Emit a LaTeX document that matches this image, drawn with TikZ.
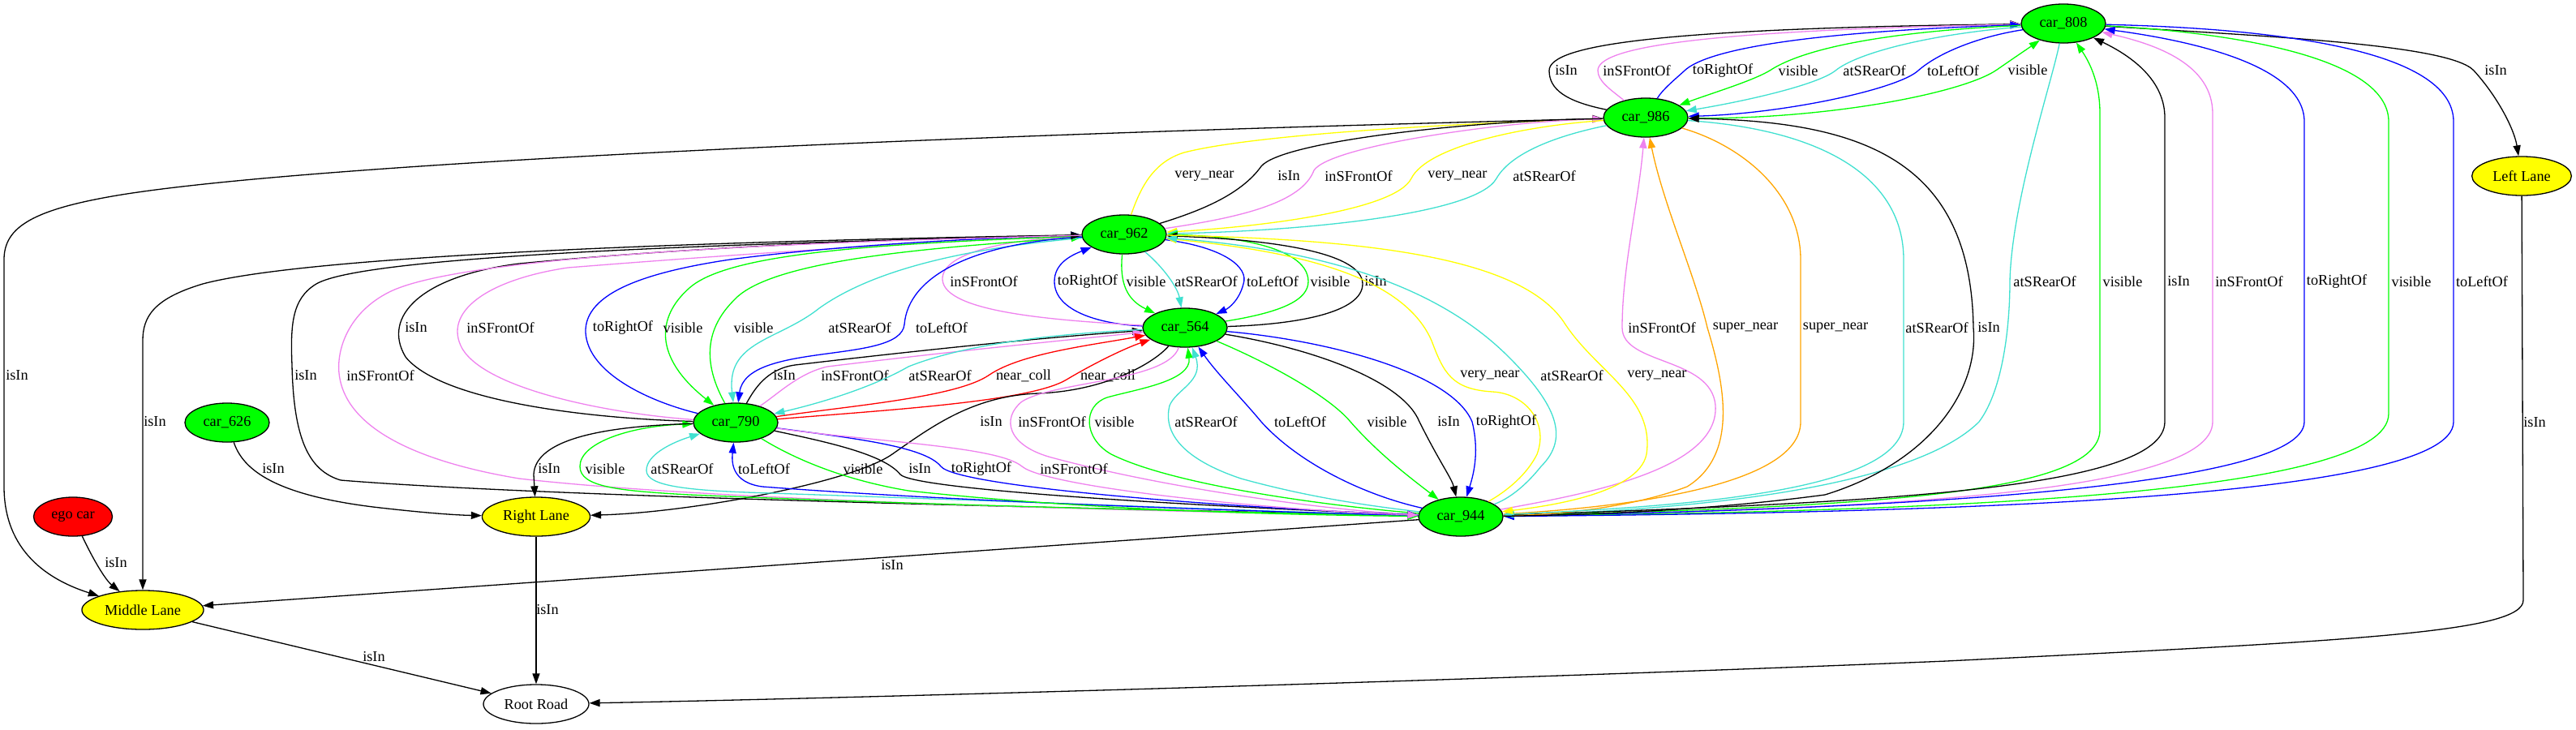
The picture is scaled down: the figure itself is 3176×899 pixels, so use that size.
\documentclass[tikz,border=0pt]{standalone}
\usepackage{fontspec}
\setmainfont{Liberation Serif}
\usetikzlibrary{shapes.geometric,arrows.meta}
\definecolor{gvgreen}{HTML}{00FF00}
\definecolor{gvviolet}{HTML}{EE82EE}
\definecolor{gvturq}{HTML}{40E0D0}
\definecolor{gvyellow}{HTML}{FFFF00}
\definecolor{gvorange}{HTML}{FFA500}
\definecolor{gvblue}{HTML}{0000FF}
\definecolor{gvred}{HTML}{FF0000}
\begin{document}
\begin{tikzpicture}[x=0.766pt, y=0.766pt, every node/.style={font=\fontsize{14}{16}\selectfont},
  obj/.style={ellipse,draw,line width=1pt,inner sep=0pt,minimum height=36.8pt},
  car/.style={obj,fill=gvgreen,minimum width=79.7pt},
  lane/.style={obj,fill=gvyellow},
  rel/.style={line width=1pt,-{Triangle[length=10pt,width=7pt]}},
  relb/.style={line width=1pt,{Triangle[length=10pt,width=7pt]}-},
  isin/.style={black}, infront/.style={gvviolet}, atrear/.style={gvturq}, lr/.style={gvblue},
  seen/.style={gvgreen}, vnear/.style={gvyellow}, snear/.style={gvorange}, ncoll/.style={gvred},
  lbl/.style={text=black,inner sep=1pt}]
\useasboundingbox (0,0) rectangle (3176,-899);
\node[car] (c808) at (2544,-29) {car\_808};
\node[car] (c986) at (2029,-145) {car\_986};
\node[lane,minimum width=94pt] (lleft) at (3109,-217) {Left Lane};
\node[car] (c962) at (1386,-289) {car\_962};
\node[car] (c564) at (1461,-404) {car\_564};
\node[car] (c790) at (907,-521) {car\_790};
\node[car] (c626) at (280,-521) {car\_626};
\node[car] (c944) at (1801,-637) {car\_944};
\node[obj,fill=gvred,minimum width=74.3pt] (ego) at (90,-637) {ego car};
\node[lane,minimum width=102pt] (lright) at (661,-637) {Right Lane};
\node[lane,minimum width=115pt] (lmid) at (176,-752) {Middle Lane};
\node[obj,fill=white,minimum width=99.6pt] (road) at (661,-868) {Root Road};

\draw[rel,isin] (c986) .. controls (1930,-125) and (1910,-110) .. (1910,-87) .. controls (1910,-55) and (2050,-35) .. (c808) node[lbl] at (1931,-87) {isIn};
\draw[rel,infront] (c986) .. controls (1985,-110) and (1970,-100) .. (1970,-87) .. controls (1970,-60) and (2080,-38) .. (c808) node[lbl] at (2018,-87) {inSFrontOf};
\draw[rel,lr] (c986) .. controls (2050,-110) and (2065,-98) .. (2077,-87) .. controls (2100,-65) and (2200,-40) .. (c808) node[lbl] at (2124,-87) {toRightOf};
\draw[relb,seen] (c986) .. controls (2110,-115) and (2160,-100) .. (2182,-87) .. controls (2215,-65) and (2300,-40) .. (c808) node[lbl] at (2217,-87) {visible};
\draw[relb,atrear] (c986) .. controls (2150,-125) and (2240,-105) .. (2263,-87) .. controls (2290,-65) and (2380,-42) .. (c808) node[lbl] at (2311,-87) {atSRearOf};
\draw[relb,lr] (c986) .. controls (2200,-140) and (2340,-110) .. (2365,-87) .. controls (2390,-65) and (2440,-45) .. (c808) node[lbl] at (2408,-87) {toLeftOf};
\draw[rel,seen] (c986) .. controls (2250,-148) and (2420,-115) .. (2462,-86) .. controls (2485,-70) and (2500,-60) .. (c808) node[lbl] at (2500,-86) {visible};
\draw[rel,isin] (c808) .. controls (2800,-45) and (3020,-55) .. (3050,-87) .. controls (3080,-120) and (3100,-160) .. (lleft) node[lbl] at (3077,-87) {isIn};

\draw[relb,atrear] (c944) .. controls (2200,-625) and (2380,-580) .. (2440,-520) .. controls (2470,-480) and (2478,-400) .. (2478,-347) .. controls (2480,-250) and (2530,-100) .. (c808) node[lbl] at (2521,-347) {atSRearOf};
\draw[rel,seen] (c944) .. controls (2300,-625) and (2589,-610) .. (2589,-530) -- (2589,-140) .. controls (2589,-100) and (2575,-75) .. (c808) node[lbl] at (2617,-347) {visible};
\draw[rel,isin] (c944) .. controls (2300,-620) and (2669,-605) .. (2669,-520) -- (2669,-145) .. controls (2669,-100) and (2630,-70) .. (c808) node[lbl] at (2686,-347) {isIn};
\draw[rel,infront] (c944) .. controls (2300,-628) and (2728,-610) .. (2728,-520) -- (2728,-140) .. controls (2728,-80) and (2660,-55) .. (c808) node[lbl] at (2773,-347) {inSFrontOf};
\draw[rel,lr] (c944) .. controls (2350,-628) and (2841,-600) .. (2841,-520) -- (2841,-150) .. controls (2841,-80) and (2700,-50) .. (c808) node[lbl] at (2881,-347) {toRightOf};
\draw[relb,seen] (c944) .. controls (2400,-630) and (2945,-610) .. (2945,-510) -- (2945,-150) .. controls (2945,-70) and (2750,-40) .. (c808) node[lbl] at (2973,-347) {visible};
\draw[relb,lr] (c944) .. controls (2400,-632) and (3025,-615) .. (3025,-520) -- (3025,-150) .. controls (3025,-60) and (2800,-35) .. (c808) node[lbl] at (3060,-347) {toLeftOf};

\draw[relb,infront] (c986) .. controls (2020,-250) and (2000,-330) .. (2000,-404) .. controls (2000,-450) and (2110,-440) .. (2115,-500) .. controls (2120,-580) and (1950,-610) .. (c944) node[lbl] at (2049,-404) {inSFrontOf};
\draw[relb,snear] (c986) .. controls (2050,-250) and (2090,-340) .. (2105,-404) .. controls (2125,-470) and (2145,-560) .. (2080,-600) .. controls (2000,-630) and (1900,-635) .. (c944) node[lbl] at (2152,-404) {super\_near};
\draw[rel,snear] (c986) .. controls (2150,-180) and (2220,-240) .. (2220,-320) -- (2220,-520) .. controls (2220,-600) and (2000,-625) .. (c944) node[lbl] at (2263,-404) {super\_near};
\draw[rel,atrear] (c986) .. controls (2250,-160) and (2347,-220) .. (2347,-320) -- (2347,-520) .. controls (2347,-610) and (2050,-625) .. (c944) node[lbl] at (2388,-404) {atSRearOf};
\draw[relb,isin] (c986) .. controls (2300,-150) and (2430,-200) .. (2433,-404) .. controls (2440,-480) and (2380,-570) .. (2250,-610) .. controls (2100,-630) and (1950,-635) .. (c944) node[lbl] at (2452,-404) {isIn};

\draw[rel,vnear] (c962) .. controls (1405,-235) and (1420,-200) .. (1460,-188) .. controls (1550,-165) and (1800,-152) .. (c986) node[lbl] at (1485,-217) {very\_near};
\draw[rel,isin] (c962) .. controls (1480,-260) and (1530,-240) .. (1555,-205) .. controls (1580,-175) and (1800,-150) .. (c986) node[lbl] at (1589,-217) {isIn};
\draw[rel,infront] (c962) .. controls (1530,-268) and (1605,-250) .. (1620,-210) .. controls (1640,-180) and (1850,-150) .. (c986) node[lbl] at (1675,-217) {inSFrontOf};
\draw[relb,vnear] (c962) .. controls (1550,-280) and (1720,-260) .. (1740,-220) .. controls (1760,-180) and (1880,-155) .. (c986) node[lbl] at (1797,-217) {very\_near};
\draw[relb,atrear] (c962) .. controls (1600,-285) and (1820,-265) .. (1845,-220) .. controls (1865,-185) and (1930,-165) .. (c986) node[lbl] at (1904,-217) {atSRearOf};

\draw[rel,lr] (c564) .. controls (1360,-400) and (1300,-385) .. (1300,-347) .. controls (1300,-325) and (1320,-315) .. (c962) node[lbl] at (1341,-347) {toRightOf};
\draw[rel,seen] (c962) .. controls (1380,-350) and (1390,-370) .. (c564) node[lbl] at (1413,-347) {visible};
\draw[rel,atrear] (c962) .. controls (1435,-330) and (1452,-355) .. (c564) node[lbl] at (1487,-347) {atSRearOf};
\draw[rel,lr] (c962) .. controls (1510,-305) and (1540,-330) .. (1533,-350) .. controls (1528,-370) and (1515,-380) .. (c564) node[lbl] at (1569,-347) {toLeftOf};
\draw[rel,seen] (c564) .. controls (1580,-385) and (1613,-370) .. (1613,-347) .. controls (1613,-300) and (1500,-290) .. (c962) node[lbl] at (1640,-347) {visible};
\draw[rel,isin] (c564) .. controls (1600,-400) and (1680,-385) .. (1680,-350) .. controls (1680,-310) and (1560,-295) .. (c962) node[lbl] at (1696,-347) {isIn};
\draw[rel,infront] (c564) .. controls (1300,-395) and (1165,-385) .. (1162,-345) .. controls (1160,-310) and (1250,-295) .. (c962) node[lbl] at (1213,-347) {inSFrontOf};

\draw[rel,isin] (c790) .. controls (700,-515) and (540,-490) .. (500,-440) .. controls (470,-390) and (520,-340) .. (640,-325) .. controls (900,-300) and (1200,-292) .. (c962) node[lbl] at (513,-404) {isIn};
\draw[rel,infront] (c790) .. controls (750,-510) and (600,-480) .. (570,-430) .. controls (545,-385) and (600,-345) .. (700,-330) .. controls (950,-310) and (1200,-295) .. (c962) node[lbl] at (617,-404) {inSFrontOf};
\draw[rel,lr] (c790) .. controls (800,-495) and (725,-460) .. (722,-410) .. controls (720,-360) and (800,-335) .. (900,-320) .. controls (1050,-300) and (1250,-292) .. (c962) node[lbl] at (768,-404) {toRightOf};
\draw[rel,seen] (c962) .. controls (1100,-300) and (900,-310) .. (850,-355) .. controls (810,-390) and (805,-440) .. (c790) node[lbl] at (842,-404) {visible};
\draw[relb,seen] (c962) .. controls (1150,-305) and (950,-320) .. (905,-370) .. controls (875,-400) and (862,-440) .. (c790) node[lbl] at (929,-404) {visible};
\draw[rel,atrear] (c962) .. controls (1200,-305) and (1080,-330) .. (1010,-380) .. controls (960,-420) and (895,-420) .. (c790) node[lbl] at (1060,-404) {atSRearOf};
\draw[rel,lr] (c962) .. controls (1200,-300) and (1120,-340) .. (1115,-400) .. controls (1110,-450) and (920,-420) .. (c790) node[lbl] at (1161,-404) {toLeftOf};

\draw[rel,isin] (c986) .. controls (1200,-165) and (400,-200) .. (150,-240) .. controls (40,-258) and (5,-280) .. (5,-320) -- (5,-600) .. controls (5,-680) and (60,-715) .. (lmid) node[lbl] at (21,-463) {isIn};
\draw[rel,isin] (c962) .. controls (1000,-295) and (400,-310) .. (250,-350) .. controls (190,-368) and (176,-390) .. (176,-420) -- (lmid) node[lbl] at (191,-520) {isIn};
\draw[relb,isin] (c962) .. controls (900,-300) and (450,-315) .. (390,-350) .. controls (360,-368) and (358,-400) .. (360,-450) .. controls (362,-540) and (380,-580) .. (420,-592) .. controls (700,-615) and (1500,-630) .. (c944) node[lbl] at (377,-463) {isIn};
\draw[rel,infront] (c962) .. controls (900,-300) and (560,-320) .. (480,-360) .. controls (430,-385) and (415,-430) .. (418,-460) .. controls (425,-530) and (520,-570) .. (640,-590) .. controls (900,-620) and (1500,-632) .. (c944) node[lbl] at (469,-463) {inSFrontOf};

\draw[relb,vnear] (c962) .. controls (1600,-310) and (1730,-340) .. (1765,-420) .. controls (1780,-460) and (1790,-480) .. (1840,-483) .. controls (1880,-485) and (1910,-520) .. (1895,-560) .. controls (1880,-590) and (1850,-610) .. (c944) node[lbl] at (1837,-463) {very\_near};
\draw[relb,atrear] (c962) .. controls (1650,-310) and (1780,-360) .. (1860,-440) .. controls (1920,-500) and (1935,-540) .. (1900,-575) .. controls (1880,-600) and (1860,-615) .. (c944) node[lbl] at (1938,-463) {atSRearOf};
\draw[rel,vnear] (c962) .. controls (1700,-295) and (1880,-320) .. (1930,-400) .. controls (1970,-460) and (2040,-490) .. (2030,-560) .. controls (2020,-610) and (1900,-625) .. (c944) node[lbl] at (2043,-463) {very\_near};

\draw[rel,isin] (c790) .. controls (930,-480) and (945,-455) .. (980,-450) .. controls (1150,-430) and (1300,-415) .. (c564) node[lbl] at (967,-463) {isIn};
\draw[rel,infront] (c790) .. controls (960,-485) and (985,-460) .. (1020,-452) .. controls (1200,-430) and (1330,-418) .. (c564) node[lbl] at (1054,-463) {inSFrontOf};
\draw[relb,atrear] (c790) .. controls (1020,-495) and (1080,-475) .. (1120,-452) .. controls (1200,-420) and (1330,-410) .. (c564) node[lbl] at (1159,-463) {atSRearOf};
\draw[rel,ncoll] (c790) .. controls (1050,-500) and (1180,-490) .. (1220,-462) .. controls (1260,-435) and (1350,-425) .. (c564) node[lbl] at (1262,-463) {near\_coll};
\draw[rel,ncoll] (c790) .. controls (1100,-505) and (1270,-495) .. (1315,-468) .. controls (1345,-450) and (1385,-430) .. (c564) node[lbl] at (1366,-463) {near\_coll};

\draw[rel,isin] (c564) .. controls (1420,-450) and (1360,-482) .. (1280,-485) .. controls (1200,-488) and (1150,-525) .. (1100,-560) .. controls (1050,-595) and (850,-632) .. (lright) node[lbl] at (1222,-520) {isIn};
\draw[rel,infront] (c564) .. controls (1440,-470) and (1300,-470) .. (1260,-495) .. controls (1235,-515) and (1240,-550) .. (1300,-565) .. controls (1450,-605) and (1650,-630) .. (c944) node[lbl] at (1297,-520) {inSFrontOf};
\draw[relb,seen] (c564) .. controls (1470,-470) and (1400,-480) .. (1365,-490) .. controls (1335,-500) and (1335,-540) .. (1370,-560) .. controls (1450,-600) and (1650,-625) .. (c944) node[lbl] at (1374,-520) {visible};
\draw[relb,atrear] (c564) .. controls (1485,-470) and (1450,-480) .. (1442,-500) .. controls (1432,-540) and (1470,-570) .. (1530,-590) .. controls (1620,-615) and (1700,-625) .. (c944) node[lbl] at (1487,-520) {atSRearOf};
\draw[relb,lr] (c564) .. controls (1500,-460) and (1530,-490) .. (1555,-520) .. controls (1600,-570) and (1680,-610) .. (c944) node[lbl] at (1603,-520) {toLeftOf};
\draw[rel,seen] (c564) .. controls (1570,-450) and (1640,-490) .. (1665,-520) .. controls (1700,-560) and (1740,-590) .. (c944) node[lbl] at (1710,-520) {visible};
\draw[rel,isin] (c564) .. controls (1620,-430) and (1730,-470) .. (1750,-520) .. controls (1775,-570) and (1790,-590) .. (c944) node[lbl] at (1786,-520) {isIn};
\draw[rel,lr] (c564) .. controls (1640,-420) and (1790,-460) .. (1815,-520) .. controls (1825,-560) and (1815,-590) .. (c944) node[lbl] at (1857,-520) {toRightOf};

\draw[relb,seen] (c790) .. controls (780,-525) and (715,-545) .. (715,-575) .. controls (715,-600) and (760,-605) .. (850,-610) .. controls (1200,-625) and (1600,-633) .. (c944) node[lbl] at (746,-578) {visible};
\draw[relb,atrear] (c790) .. controls (830,-545) and (797,-560) .. (797,-580) .. controls (797,-600) and (850,-605) .. (950,-608) .. controls (1300,-620) and (1600,-632) .. (c944) node[lbl] at (841,-578) {atSRearOf};
\draw[relb,lr] (c790) .. controls (902,-570) and (902,-595) .. (940,-600) .. controls (1200,-620) and (1600,-632) .. (c944) node[lbl] at (942,-578) {toLeftOf};
\draw[rel,seen] (c790) .. controls (970,-560) and (1030,-590) .. (1120,-605) .. controls (1350,-630) and (1600,-635) .. (c944) node[lbl] at (1064,-578) {visible};
\draw[rel,isin] (c790) .. controls (1020,-545) and (1090,-560) .. (1110,-585) .. controls (1130,-605) and (1500,-625) .. (c944) node[lbl] at (1134,-578) {isIn};
\draw[rel,lr] (c790) .. controls (1050,-540) and (1140,-550) .. (1160,-575) .. controls (1180,-600) and (1500,-625) .. (c944) node[lbl] at (1210,-578) {toRightOf};
\draw[rel,infront] (c790) .. controls (1080,-545) and (1230,-550) .. (1260,-575) .. controls (1290,-600) and (1550,-628) .. (c944) node[lbl] at (1324,-578) {inSFrontOf};

\draw[rel,isin] (c790) .. controls (750,-525) and (660,-540) .. (658,-585) -- (lright) node[lbl] at (677,-578) {isIn};
\draw[rel,isin] (c626) .. controls (300,-580) and (340,-610) .. (460,-625) .. controls (520,-632) and (560,-635) .. (lright) node[lbl] at (337,-578) {isIn};
\draw[rel,isin] (ego) .. controls (115,-690) and (130,-715) .. (lmid) node[lbl] at (143,-694) {isIn};
\draw[rel,isin] (c944) -- (lmid) node[lbl] at (1100,-697) {isIn};
\draw[rel,isin] (lright) -- (road) node[lbl] at (675,-752) {isIn};
\draw[rel,isin] (lmid) -- (road) node[lbl] at (461,-810) {isIn};
\draw[rel,isin] (lleft) -- (3111,-740) .. controls (3111,-780) and (2900,-790) .. (2400,-815) .. controls (1800,-840) and (1000,-862) .. (road) node[lbl] at (3125,-521) {isIn};
\end{tikzpicture}
\end{document}
